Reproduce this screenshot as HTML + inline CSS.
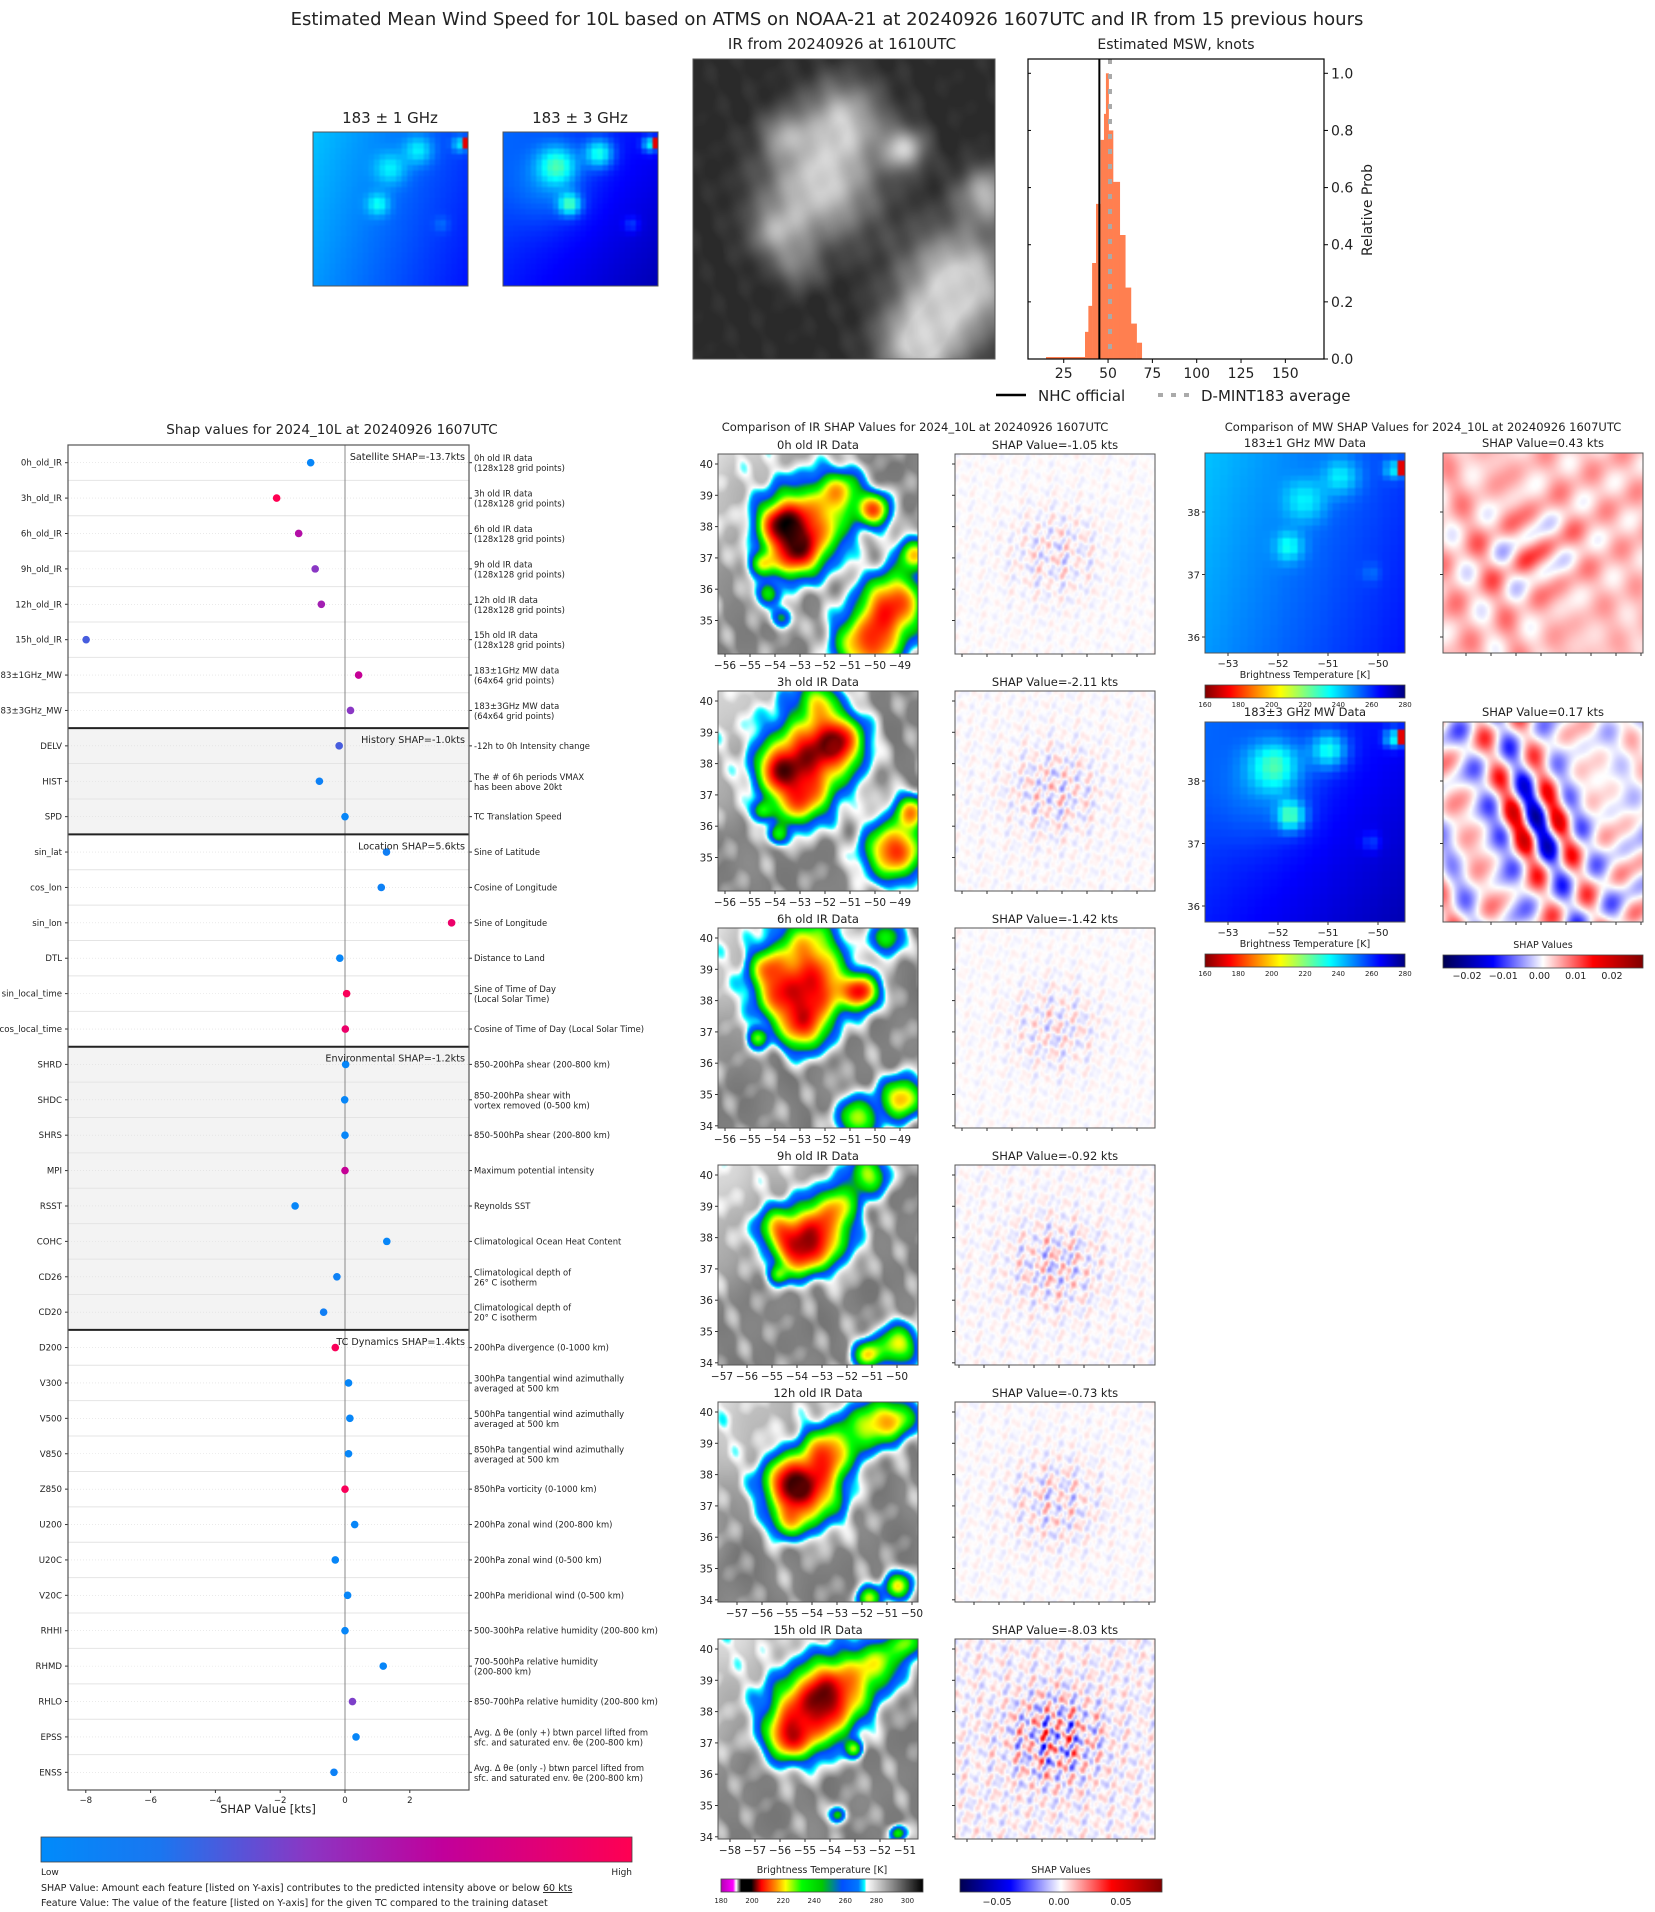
<!DOCTYPE html>
<html><head><meta charset="utf-8"><title>D-MINT SHAP 10L</title>
<style>
html,body{margin:0;padding:0;background:#fff}
#page{position:relative;width:1655px;height:1912px;overflow:hidden;background:#fff;font-family:"DejaVu Sans","Liberation Sans",sans-serif}
canvas{position:absolute}
#svg{position:absolute;left:0;top:0}
text{font-family:"DejaVu Sans","Liberation Sans",sans-serif;fill:#222}
</style></head>
<body>
<div id="page">
<svg id="svg" width="1655" height="1912" viewBox="0 0 1655 1912">
<defs>
<linearGradient id="gFeat" x1="0" x2="1" y1="0" y2="0">
<stop offset="0" stop-color="#008bfb"/><stop offset="0.2" stop-color="#1a76f0"/><stop offset="0.45" stop-color="#8a37c4"/><stop offset="0.68" stop-color="#c1009b"/><stop offset="1" stop-color="#ff0052"/>
</linearGradient>
<linearGradient id="gJet" x1="0" x2="1" y1="0" y2="0">
<stop offset="0" stop-color="#800000"/><stop offset="0.125" stop-color="#ff0000"/><stop offset="0.375" stop-color="#ffff00"/><stop offset="0.5" stop-color="#80ff80"/><stop offset="0.625" stop-color="#00ffff"/><stop offset="0.875" stop-color="#0000ff"/><stop offset="1" stop-color="#000080"/>
</linearGradient>
<linearGradient id="gSeis" x1="0" x2="1" y1="0" y2="0">
<stop offset="0" stop-color="#000050"/><stop offset="0.25" stop-color="#0000ff"/><stop offset="0.5" stop-color="#ffffff"/><stop offset="0.75" stop-color="#ff0000"/><stop offset="1" stop-color="#800000"/>
</linearGradient>
<linearGradient id="gIR" x1="0" x2="1" y1="0" y2="0">
<stop offset="0" stop-color="#b400b4"/><stop offset="0.06" stop-color="#ff00ff"/><stop offset="0.075" stop-color="#ffffff"/><stop offset="0.1" stop-color="#000000"/><stop offset="0.15" stop-color="#000000"/><stop offset="0.2" stop-color="#ff0000"/><stop offset="0.27" stop-color="#ff8c00"/><stop offset="0.32" stop-color="#ffff00"/><stop offset="0.4" stop-color="#00ff00"/><stop offset="0.5" stop-color="#00c800"/><stop offset="0.6" stop-color="#0050ff"/><stop offset="0.68" stop-color="#0078ff"/><stop offset="0.71" stop-color="#00ffff"/><stop offset="0.72" stop-color="#ffffff"/><stop offset="1" stop-color="#000000"/>
</linearGradient>
</defs>
<text x="827" y="25" font-size="18" text-anchor="middle">Estimated Mean Wind Speed for 10L based on ATMS on NOAA-21 at 20240926 1607UTC and IR from 15 previous hours</text>
<text x="390" y="123" font-size="15" text-anchor="middle">183 ± 1 GHz</text>
<text x="580" y="123" font-size="15" text-anchor="middle">183 ± 3 GHz</text>
<text x="842" y="49" font-size="15" text-anchor="middle">IR from 20240926 at 1610UTC</text>
<text x="1176" y="49" font-size="14" text-anchor="middle">Estimated MSW, knots</text>
<text x="332" y="434" font-size="13.5" text-anchor="middle">Shap values for 2024_10L at 20240926 1607UTC</text>
<text x="915" y="431" font-size="11.5" text-anchor="middle">Comparison of IR SHAP Values for 2024_10L at 20240926 1607UTC</text>
<text x="1423" y="431" font-size="11.5" text-anchor="middle">Comparison of MW SHAP Values for 2024_10L at 20240926 1607UTC</text>
<g id="hist"></g>
<g id="shap"></g>
<g id="panels"></g>
<rect x="41" y="1837" width="591" height="25" fill="url(#gFeat)" stroke="#444" stroke-width="0.8"/>
<text x="41" y="1875" font-size="9">Low</text>
<text x="632" y="1875" font-size="9" text-anchor="end">High</text>
<text x="41" y="1891" font-size="9.5">SHAP Value: Amount each feature [listed on Y-axis] contributes to the predicted intensity above or below <tspan text-decoration="underline">60 kts</tspan></text>
<text x="41" y="1906" font-size="9.5">Feature Value: The value of the feature [listed on Y-axis] for the given TC compared to the training dataset</text>
</svg>
</div>
<script>
// ---------- histogram data ----------
const binEdges=[15,37,38.9,41,43.2,45.8,47.7,48.8,50.3,52.8,56.6,59.7,62.9,66.1,69];
const binProbs=[0.007,0.095,0.186,0.336,0.543,0.767,0.858,1.0,0.80,0.62,0.434,0.25,0.124,0.057];
const nhcOfficial=45.1;
const dmintAverage=51.1;
const histXTicks=[25,50,75,100,125,150];
const histYTicks=[0.0,0.2,0.4,0.6,0.8,1.0];
// ---------- shap data ----------
const featureNames=["0h_old_IR","3h_old_IR","6h_old_IR","9h_old_IR","12h_old_IR","15h_old_IR","183±1GHz_MW","183±3GHz_MW","DELV","HIST","SPD","sin_lat","cos_lon","sin_lon","DTL","sin_local_time","cos_local_time","SHRD","SHDC","SHRS","MPI","RSST","COHC","CD26","CD20","D200","V300","V500","V850","Z850","U200","U20C","V20C","RHHI","RHMD","RHLO","EPSS","ENSS"];
const shapValues=[-1.06,-2.11,-1.43,-0.92,-0.73,-7.99,0.42,0.17,-0.18,-0.79,0.0,1.28,1.12,3.29,-0.16,0.05,0.01,0.02,-0.01,0.0,0.0,-1.54,1.29,-0.25,-0.66,-0.3,0.11,0.15,0.11,0.0,0.3,-0.3,0.08,0.0,1.18,0.23,0.34,-0.34];
const featureLevel=[0.05,1.0,0.62,0.45,0.55,0.3,0.7,0.45,0.3,0.1,0.05,0.12,0.1,0.9,0.05,0.97,0.9,0.05,0.05,0.05,0.7,0.05,0.05,0.1,0.12,0.97,0.05,0.05,0.05,0.97,0.05,0.05,0.05,0.05,0.05,0.42,0.05,0.1];
const featureDescs=[["0h old IR data","(128x128 grid points)"],["3h old IR data","(128x128 grid points)"],["6h old IR data","(128x128 grid points)"],["9h old IR data","(128x128 grid points)"],["12h old IR data","(128x128 grid points)"],["15h old IR data","(128x128 grid points)"],["183±1GHz MW data","(64x64 grid points)"],["183±3GHz MW data","(64x64 grid points)"],["-12h to 0h Intensity change"],["The # of 6h periods VMAX","has been above 20kt"],["TC Translation Speed"],["Sine of Latitude"],["Cosine of Longitude"],["Sine of Longitude"],["Distance to Land"],["Sine of Time of Day","(Local Solar Time)"],["Cosine of Time of Day (Local Solar Time)"],["850-200hPa shear (200-800 km)"],["850-200hPa shear with","vortex removed (0-500 km)"],["850-500hPa shear (200-800 km)"],["Maximum potential intensity"],["Reynolds SST"],["Climatological Ocean Heat Content"],["Climatological depth of","26° C isotherm"],["Climatological depth of","20° C isotherm"],["200hPa divergence (0-1000 km)"],["300hPa tangential wind azimuthally","averaged at 500 km"],["500hPa tangential wind azimuthally","averaged at 500 km"],["850hPa tangential wind azimuthally","averaged at 500 km"],["850hPa vorticity (0-1000 km)"],["200hPa zonal wind (200-800 km)"],["200hPa zonal wind (0-500 km)"],["200hPa meridional wind (0-500 km)"],["500-300hPa relative humidity (200-800 km)"],["700-500hPa relative humidity","(200-800 km)"],["850-700hPa relative humidity (200-800 km)"],["Avg. Δ θe (only +) btwn parcel lifted from","sfc. and saturated env. θe (200-800 km)"],["Avg. Δ θe (only -) btwn parcel lifted from","sfc. and saturated env. θe (200-800 km)"]];
const groupNames=["Satellite","History","Location","Environmental","TC Dynamics"];
const groupSizes=[8,3,6,8,13];
const groupShap=["-13.7","-1.0","5.6","-1.2","1.4"];
const shapTicks=[-8,-6,-4,-2,0,2];
const irShap=["-1.05","-2.11","-1.42","-0.92","-0.73","-8.03"];
const mwShap=["0.43","0.17"];

const NS="http://www.w3.org/2000/svg";
function mk(parent,tag,attrs,txt){const e=document.createElementNS(NS,tag);for(const k in attrs)e.setAttribute(k,attrs[k]);if(txt!==undefined)e.textContent=txt;parent.appendChild(e);return e;}

// ---------- histogram ----------
(function(){
 const g=document.getElementById('hist');
 const L=1028,R=1324,T=59,B=359;
 const hx=k=>1019.4+k*1.773, hy=p=>B-p*285.7;
 for(let i=0;i<binProbs.length;i++){
  const r=mk(g,'rect',{x:hx(binEdges[i]),y:hy(binProbs[i]),width:hx(binEdges[i+1])-hx(binEdges[i])+0.3,height:B-hy(binProbs[i]),fill:'#ff7f50'});
  
  
 }
 const nl=mk(g,'line',{x1:hx(nhcOfficial),x2:hx(nhcOfficial),y1:T,y2:B,stroke:'#000','stroke-width':2});
 
 
 const dl=mk(g,'line',{x1:hx(dmintAverage),x2:hx(dmintAverage),y1:T,y2:B,stroke:'#aaa','stroke-width':4,'stroke-dasharray':'5 10'});
 
 
 const fr=mk(g,'rect',{x:L,y:T,width:R-L,height:B-T,fill:'none',stroke:'#000','stroke-width':1.2});
 
 
 histXTicks.forEach(v=>{
  mk(g,'line',{x1:hx(v),x2:hx(v),y1:B,y2:B+4,stroke:'#000'});
  const t=mk(g,'text',{x:hx(v),y:B+19,'font-size':14,'text-anchor':'middle'},String(v));
  
  
 });
 histYTicks.forEach(v=>{
  mk(g,'line',{x1:R,x2:R+4,y1:hy(v),y2:hy(v),stroke:'#000'});
  mk(g,'line',{x1:L,x2:L+3,y1:hy(v),y2:hy(v),stroke:'#000'});
  const t=mk(g,'text',{x:R+7,y:hy(v)+5,'font-size':14},v.toFixed(1));
  
  
 });
 const yl=mk(g,'text',{x:0,y:0,'font-size':14,'text-anchor':'middle',transform:'translate(1372,210) rotate(-90)'},'Relative Prob');
 
 
 mk(g,'line',{x1:996,x2:1026,y1:395,y2:395,stroke:'#000','stroke-width':2.5});
 const l1=mk(g,'text',{x:1038,y:401,'font-size':15},'NHC official');
 
 
 mk(g,'line',{x1:1158,x2:1190,y1:395,y2:395,stroke:'#aaa','stroke-width':4,'stroke-dasharray':'5 8'});
 const l2=mk(g,'text',{x:1201,y:401,'font-size':15},'D-MINT183 average');
 
 
})();

// ---------- shap chart ----------
function featColor(t){
 const st=[[0,[0,139,251]],[0.2,[26,118,240]],[0.45,[138,55,196]],[0.68,[193,0,155]],[1,[255,0,82]]];
 for(let i=0;i<st.length-1;i++){if(t<=st[i+1][0]){const f=(t-st[i][0])/(st[i+1][0]-st[i][0]);const a=st[i][1],b=st[i+1][1];return 'rgb('+a.map((c,j)=>Math.round(c+(b[j]-c)*f)).join(',')+')';}}
 return 'rgb(255,0,82)';
}
(function(){
 const g=document.getElementById('shap');
 const L=68,R=469,T=445,B=1790;
 const n=featureNames.length, rh=(B-T)/n;
 const sx=v=>345+v*32.4, ry=i=>T+(i+0.5)*rh;
 let s=0;
 groupSizes.forEach((c,gi)=>{
  const bg=mk(g,'rect',{x:L,y:T+s*rh,width:R-L,height:c*rh,fill:(gi%2?'#f3f3f3':'#fff')});
  
  
  s+=c;
 });
 for(let i=1;i<n;i++) mk(g,'line',{x1:L,x2:R,y1:T+i*rh,y2:T+i*rh,stroke:'#e4e4e4','stroke-width':1});
 for(let i=0;i<n;i++) mk(g,'line',{x1:L,x2:R,y1:ry(i),y2:ry(i),stroke:'#ddd','stroke-width':0.6,'stroke-dasharray':'1 2'});
 const zl=mk(g,'line',{x1:sx(0),x2:sx(0),y1:T,y2:B,stroke:'#888','stroke-width':1});
 
 
 s=0;
 groupSizes.forEach((c,gi)=>{
  if(gi>0){const sep=mk(g,'line',{x1:L,x2:R,y1:T+s*rh,y2:T+s*rh,stroke:'#222','stroke-width':2});
   
   }
  s+=c;
 });
 for(let i=0;i<n;i++){
  const d=mk(g,'circle',{cx:sx(shapValues[i]),cy:ry(i),r:3.8,fill:featColor(featureLevel[i])});
  
  
  mk(g,'line',{x1:L-3,x2:L,y1:ry(i),y2:ry(i),stroke:'#333'});
  const lt=mk(g,'text',{x:L-6,y:ry(i)+3,'font-size':8.6,'text-anchor':'end'},featureNames[i]);
  
  
  mk(g,'line',{x1:R,x2:R+3,y1:ry(i),y2:ry(i),stroke:'#333'});
  const ds=featureDescs[i];
  const dt=mk(g,'text',{x:R+5,y:ry(i)+(ds.length>1?-1.5:3),'font-size':8.4});
  
  
  ds.forEach((ln,k)=>mk(dt,'tspan',{x:R+5,dy:k?10:0},ln));
 }
 s=0;
 groupSizes.forEach((c,gi)=>{
  const gt=mk(g,'text',{x:R-4,y:T+s*rh+15,'font-size':9.6,'text-anchor':'end'},groupNames[gi]+' SHAP='+groupShap[gi]+'kts');
  
  
  s+=c;
 });
 const fr=mk(g,'rect',{x:L,y:T,width:R-L,height:B-T,fill:'none',stroke:'#555','stroke-width':1.2});
 
 
 shapTicks.forEach(v=>{
  mk(g,'line',{x1:sx(v),x2:sx(v),y1:B,y2:B+3,stroke:'#333'});
  const t=mk(g,'text',{x:sx(v),y:B+13,'font-size':8.6,'text-anchor':'middle'},v===0?'0':String(v).replace('-','−'));
  
  
 });
 const xl=mk(g,'text',{x:268,y:B+23,'font-size':11.5,'text-anchor':'middle'},'SHAP Value [kts]');
 
 
})();

// ---------- images ----------
const page=document.getElementById('page');
const svgEl=document.getElementById('svg');
function field(name,x,y,w,h,res,fn){
 const c=document.createElement('canvas');
 
 
 c.width=res;c.height=res;
 c.style.left=x+'px';c.style.top=y+'px';c.style.width=w+'px';c.style.height=h+'px';
 const ctx=c.getContext('2d');const im=ctx.createImageData(res,res);
 for(let j=0;j<res;j++)for(let i=0;i<res;i++){const p=fn((i+0.5)/res,(j+0.5)/res);const o=(j*res+i)*4;im.data[o]=p[0];im.data[o+1]=p[1];im.data[o+2]=p[2];im.data[o+3]=255;}
 ctx.putImageData(im,0,0);page.insertBefore(c,svgEl);return c;
}
function nz(u,v,s){return Math.sin(u*53+v*11+s)*Math.sin(v*47-u*7+s*1.7)+0.6*Math.sin(u*91-v*31+s*2.3)*Math.sin(v*83+s)+0.4*Math.sin(u*140+v*60+s*3.1);}
function snz(u,v,s){return Math.sin(u*13+v*5+s)*Math.sin(v*11-u*3+s*1.7)+0.5*Math.sin(u*23-v*9+s*2.3);}
function blobSum(b,u,v){let s=0;for(const q of b){const dx=u-q[0],dy=v-q[1];s+=q[3]*Math.exp(-(dx*dx+dy*dy)/(q[2]*q[2]));}return s;}
function lerpStops(st,T){if(T<=st[0][0])return st[0][1];for(let i=0;i<st.length-1;i++){if(T<=st[i+1][0]){const f=(T-st[i][0])/(st[i+1][0]-st[i][0]);return st[i][1].map((c,j)=>c+(st[i+1][1][j]-c)*f);}}return st[st.length-1][1];}
const irStops=[[180,[180,0,180]],[188,[255,0,255]],[190,[255,255,255]],[193,[0,0,0]],[200,[0,0,0]],[207,[255,0,0]],[215,[255,140,0]],[222,[255,255,0]],[232,[0,255,0]],[242,[0,190,0]],[250,[0,70,255]],[262,[0,120,255]],[268,[0,255,255]],[272,[255,255,255]],[310,[0,0,0]]];
function jet(t){t=Math.max(0,Math.min(1,t));const c=x=>Math.max(0,Math.min(1,1.5-Math.abs(x)))*255;return [c(4*t-3),c(4*t-2),c(4*t-1)];}
function seis(v){v=Math.max(-1,Math.min(1,v));if(v<0){const a=-v;return a<0.5?[255*(1-2*a),255*(1-2*a),255]:[0,0,255-160*(a-0.5)*2];}const a=v;return a<0.5?[255,255*(1-2*a),255*(1-2*a)]:[255-127*(a-0.5)*2,0,0];}

const irBlobs=[
 [[.45,.35,.18,85],[.38,.5,.12,70],[.3,.35,.1,55],[.22,.55,.06,45],[.25,.7,.06,40],[.32,.82,.05,35],[.78,.28,.08,75],[.62,.18,.1,50],[.88,.75,.15,85],[.75,.95,.15,85],[.98,.5,.08,60]],
 [[.45,.35,.2,85],[.6,.25,.12,80],[.4,.55,.12,60],[.3,.4,.1,50],[.22,.6,.05,40],[.3,.72,.05,40],[.88,.8,.14,85],[.97,.6,.08,65],[.5,.05,.1,45]],
 [[.5,.3,.16,85],[.72,.32,.08,85],[.42,.5,.12,70],[.3,.35,.12,55],[.25,.2,.1,45],[.45,.08,.15,45],[.2,.55,.05,40],[.92,.85,.1,70],[.7,.95,.1,55],[.85,.05,.08,45]],
 [[.5,.35,.15,85],[.4,.45,.1,70],[.3,.32,.1,50],[.6,.2,.1,45],[.75,.05,.1,50],[.3,.55,.05,40],[.9,.9,.1,60],[.75,.95,.07,55]],
 [[.45,.45,.16,85],[.55,.25,.12,70],[.35,.4,.12,60],[.75,.12,.12,55],[.9,.08,.1,50],[.35,.6,.08,45],[.9,.92,.07,55],[.75,.98,.06,50]],
 [[.45,.38,.18,88],[.6,.25,.16,75],[.35,.5,.1,60],[.8,.12,.12,50],[.95,.02,.08,45],[.68,.55,.04,40],[.6,.88,.04,40],[.9,.97,.04,45]]];
const shapAmp=[0.12,0.15,0.12,0.18,0.15,0.38];
const irOffX=[7,7,7,4,19,12];
const irXStart=[-56,-56,-56,-57,-57,-58];
const irYTicks=[[40,39,38,37,36,35],[40,39,38,37,36,35],[40,39,38,37,36,35,34],[40,39,38,37,36,35,34],[40,39,38,37,36,35,34],[40,39,38,37,36,35,34]];
const irTitles=["0h old IR Data","3h old IR Data","6h old IR Data","9h old IR Data","12h old IR Data","15h old IR Data"];
const P=document.getElementById('panels');
function frame(x,y,w,h,name){const r=mk(P,'rect',{x:x,y:y,width:w,height:h,fill:'none',stroke:'#555','stroke-width':1});}
function label(x,y,txt,size,anchor,name){const t=mk(P,'text',{x:x,y:y,'font-size':size,'text-anchor':anchor||'middle'},txt);return t;}

for(let r=0;r<6;r++){
 const top=454+r*237, ix=718, sxp=955, W=200, H=200;
 const bl=irBlobs[r], sd=r*1.3;
 field('ir-image-'+r,ix,top,W,H,110,(u,v)=>{
  const bg=291-14*Math.max(0,1-(u+v)*1.2)+1.2*snz(u,v,sd);
  let s=blobSum(bl,u,v)+4*snz(u*2,v*2,sd+4);
  const c=Math.min(88,95*(1-Math.exp(-Math.max(0,s)/45)));
  return lerpStops(irStops,bg-c);
 });
 field('ir-shap-image-'+r,sxp,top,W,H,110,(u,v)=>{
  const e=0.2+0.8*Math.exp(-((u-.5)*(u-.5)+(v-.5)*(v-.5))/0.04);
  return seis(shapAmp[r]*e*nz(u,v,sd+7));
 });
 frame(ix,top,W,H,'ir-frame-'+r);
 frame(sxp,top,W,H,'ir-shap-frame-'+r);
 label(ix+W/2,top-5,irTitles[r],11.5,'middle','ir-panel-title');
 label(sxp+W/2,top-5,'SHAP Value='+irShap[r]+' kts',11.5,'middle','ir-shap-title');
 irYTicks[r].forEach(d=>{const yy=top+10+(40-d)*31.3;
  mk(P,'line',{x1:ix-3,x2:ix,y1:yy,y2:yy,stroke:'#333'});
  mk(P,'line',{x1:sxp-3,x2:sxp,y1:yy,y2:yy,stroke:'#333'});
  label(ix-5,yy+4,String(d),10.5,'end','ir-y-tick-label');});
 for(let k=0;k<8;k++){const xx=ix+irOffX[r]+k*25;
  mk(P,'line',{x1:xx,x2:xx,y1:top+H,y2:top+H+3,stroke:'#333'});
  mk(P,'line',{x1:sxp+irOffX[r]+k*25,x2:sxp+irOffX[r]+k*25,y1:top+H,y2:top+H+3,stroke:'#333'});
  label(xx,top+H+15,'−'+String(-(irXStart[r]+k)),10.5,'middle','ir-x-tick-label');}
}
// IR bottom colorbars
label(822,1873,'Brightness Temperature [K]',9.5,'middle','ir-colorbar-title');
{const cb=mk(P,'rect',{x:721,y:1879,width:202,height:13,fill:'url(#gIR)',stroke:'#444','stroke-width':0.8});}
[180,200,220,240,260,280,300].forEach(v=>label(721+(v-180)/130*202,1903,String(v),7,'middle','ir-colorbar-tick'));
label(1061,1873,'SHAP Values',9.5,'middle','ir-shap-colorbar-title');
{const cb=mk(P,'rect',{x:960,y:1879,width:202,height:13,fill:'url(#gSeis)',stroke:'#444','stroke-width':0.8});}
[-0.05,0,0.05].forEach(v=>label(1059+v*1240,1905,(v<0?'−':'')+Math.abs(v).toFixed(2),9.5,'middle','ir-shap-colorbar-tick'));

// MW fields
function mwFn(k){return (u,v)=>{
 const q=28;u=(Math.floor(u*q)+0.5)/q;v=(Math.floor(v*q)+0.5)/q;
 let T;
 if(k===0){T=242+16*u+5*v-blobSum([[.5,.24,.1,15],[.68,.12,.09,17],[.42,.47,.07,18],[.83,.6,.05,6],[.95,.08,.05,20]],u,v);}
 else{T=253+12*u+9*v-9*Math.exp(-((u-.3)*(u-.3)+(v-.35)*(v-.35))/0.06)-blobSum([[.35,.22,.12,27],[.62,.14,.09,29],[.43,.47,.07,32],[.83,.6,.05,10],[.95,.08,.05,30]],u,v);}
 if(u>0.95&&v>0.04&&v<0.1)T=172;
 return jet(1-(T-160)/120);};}
field('mw1-top-image',313,132,155,154,56,mwFn(0));
field('mw3-top-image',503,132,155,154,56,mwFn(1));
frame(313,132,155,154,'mw1-top-frame');frame(503,132,155,154,'mw3-top-frame');
// top IR
const topIrBlobs=[[.42,.42,.18,1],[.5,.2,.13,.8],[.7,.3,.07,.9],[.28,.58,.09,.6],[.35,.7,.07,.4],[.88,.75,.18,1.1],[.75,.95,.13,1],[.97,.45,.09,.8],[.3,.25,.07,.5]];
field('ir-top-image',693,59,302,300,120,(u,v)=>{let c=Math.min(1,blobSum(topIrBlobs,u,v));c=Math.max(0,c+0.05*snz(u*3,v*3,2));const g=42+165*c;return [g,g,g];});
frame(693,59,302,300,'ir-top-frame');

const mwTitles=["183±1 GHz MW Data","183±3 GHz MW Data"];
const mwTops=[453,722];
const mwShapAmp=[0.35,0.95];
for(let m=0;m<2;m++){
 const top=mwTops[m],ix=1205,sxp=1443,W=200,H=200;
 field('mw-image-'+m,ix,top,W,H,80,mwFn(m));
 field('mw-shap-image-'+m,sxp,top,W,H,90,(u,v)=>{
  const e=0.35+0.65*Math.exp(-((u-.45)*(u-.45)+(v-.5)*(v-.5))/0.05);
  const base=m===0?0.12:0;
  return seis(base+mwShapAmp[m]*e*(0.7*Math.sin(u*22+v*9+m*3)*Math.sin(v*19-u*5+m)+0.5*snz(u*1.5,v*1.5,m*5+1)));
 });
 frame(ix,top,W,H,'mw-frame-'+m);frame(sxp,top,W,H,'mw-shap-frame-'+m);
 label(ix+W/2,top-6,mwTitles[m],11.5,'middle','mw-panel-title');
 label(sxp+W/2,top-6,'SHAP Value='+mwShap[m]+' kts',11.5,'middle','mw-shap-title');
 [38,37,36].forEach((d,k)=>{const yy=top+59+k*62.5;mk(P,'line',{x1:ix-3,x2:ix,y1:yy,y2:yy,stroke:'#333'});mk(P,'line',{x1:sxp-3,x2:sxp,y1:yy,y2:yy,stroke:'#333'});label(ix-5,yy+4,String(d),10,'end','mw-y-tick-label');});
 [-53,-52,-51,-50].forEach((d,k)=>{const xx=1228+k*50;mk(P,'line',{x1:xx,x2:xx,y1:top+H,y2:top+H+3,stroke:'#333'});label(xx,top+H+14,'−'+(-d),10,'middle','mw-x-tick-label');});
 for(let k=0;k<8;k++){const xx=sxp+23+k*25;mk(P,'line',{x1:xx,x2:xx,y1:top+H,y2:top+H+3,stroke:'#333'});}
 label(ix+W/2,top+H+25,'Brightness Temperature [K]',9.5,'middle','mw-colorbar-title');
 const cb=mk(P,'rect',{x:ix,y:top+H+32,width:W,height:13,fill:'url(#gJet)',stroke:'#444','stroke-width':0.8});
 
 
 [160,180,200,220,240,260,280].forEach((v,k)=>label(ix+k*W/6,top+H+54,String(v),7,'middle','mw-colorbar-tick'));
}
label(1543,948,'SHAP Values',9.5,'middle','mw-shap-colorbar-title');
{const cb=mk(P,'rect',{x:1443,y:955,width:200,height:13,fill:'url(#gSeis)',stroke:'#444','stroke-width':0.8});}
[-0.02,-0.01,0,0.01,0.02].forEach(v=>label(1539.5+v*3625,979,(v<0?'−':'')+Math.abs(v).toFixed(2),9.5,'middle','mw-shap-colorbar-tick'));
</script>
</body></html>
